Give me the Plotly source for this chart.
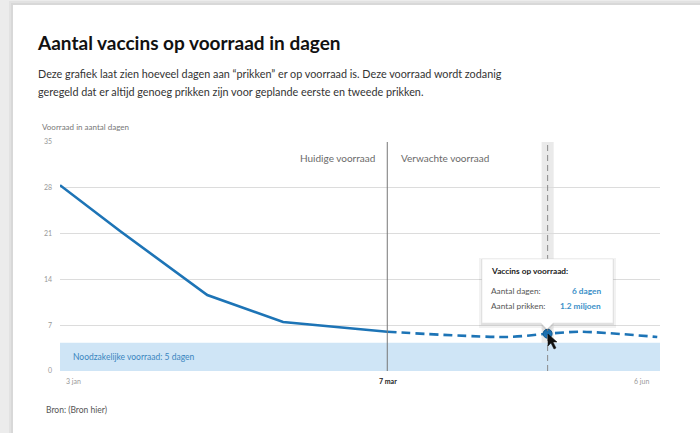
import plotly.graph_objects as go

# ---- data ----
solid_x = [0, 1.1, 2.7, 4.09, 6]
solid_y = [28.4, 21.4, 11.6, 7.5, 6.0]
dashed_x = [6, 8.2, 8.94, 9.54, 10.95]
dashed_y = [6.0, 5.2, 5.7, 6.0, 5.2]
hover_x = [8.94]
hover_y = [5.7]
x_tick_pos = [0, 6, 11]
x_tick_text = ["3 jan", "7 mar", "6 jun"]
y_ticks = [0, 7, 14, 21, 28, 35]
required_stock = 4.3

title = "Aantal vaccins op voorraad in dagen"
subtitle1 = "Deze grafiek laat zien hoeveel dagen aan \u201cprikken\u201d er op voorraad is. Deze voorraad wordt zodanig"
subtitle2 = "geregeld dat er altijd genoeg prikken zijn voor geplande eerste en tweede prikken."

FONT = "Lato"
BLUE = "#1d74b6"
W, H = 700, 433
L, R, T, B = 60, 660, 142, 371


def px(x):
    return (x - L) / (R - L)


def py(y):
    return (B - y) / (B - T)


fig = go.Figure()

fig.add_trace(go.Scatter(x=solid_x, y=solid_y, mode="lines",
                         line=dict(color=BLUE, width=2.6), hoverinfo="skip"))
fig.add_trace(go.Scatter(x=dashed_x, y=dashed_y, mode="lines",
                         line=dict(color=BLUE, width=2.6, dash="9px,5px", shape="spline", smoothing=0.8),
                         hoverinfo="skip"))
fig.add_trace(go.Scatter(x=hover_x, y=hover_y, mode="markers",
                         marker=dict(color=BLUE, size=9, line=dict(color="#135a8f", width=1)),
                         hoverinfo="skip"))

shapes = []
# card background
shapes.append(dict(type="rect", xref="paper", yref="paper", x0=px(9), x1=px(720), y0=py(450), y1=py(1),
                   fillcolor="#e2e2e2", line=dict(width=0), layer="below"))
shapes.append(dict(type="rect", xref="paper", yref="paper", x0=px(11), x1=px(720), y0=py(450), y1=py(3),
                   fillcolor="#d8d8d8", line=dict(width=0), layer="below"))
shapes.append(dict(type="rect", xref="paper", yref="paper", x0=px(13), x1=px(720), y0=py(450), y1=py(5),
                   fillcolor="white", line=dict(width=0), layer="below"))
# required stock band
shapes.append(dict(type="rect", xref="x", yref="y", x0=0, x1=11, y0=0, y1=required_stock,
                   fillcolor="#cfe5f6", line=dict(width=0), layer="below"))
# hover spike band
shapes.append(dict(type="rect", xref="x", yref="paper", x0=hover_x[0] - 0.11, x1=hover_x[0] + 0.11, y0=0, y1=1,
                   fillcolor="#e6e6e6", opacity=0.85, line=dict(width=0), layer="below"))
shapes.append(dict(type="line", xref="x", yref="paper", x0=hover_x[0], x1=hover_x[0], y0=0, y1=1,
                   line=dict(color="#888", width=1, dash="6px,4px"), layer="above"))
# current/expected divider
shapes.append(dict(type="line", xref="x", yref="paper", x0=6, x1=6, y0=0, y1=1,
                   line=dict(color="#777", width=1), layer="above"))

# tooltip
def tip_path(dx=0, dy=0, grow=0):
    l, r, t, b = 482 - grow + dx, 613 + grow + dx, 259 - grow + dy, 323 + grow + dy
    ax = 547 + dx
    pts = [(l, t), (r, t), (r, b), (ax + 6, b), (ax, b + 6 + grow), (ax - 6, b), (l, b)]
    return "M " + " L ".join(f"{px(a):.5f},{py(c):.5f}" for a, c in pts) + " Z"

shapes.append(dict(type="path", xref="paper", yref="paper", path=tip_path(0, 2, 3),
                   fillcolor="rgba(0,0,0,0.05)", line=dict(width=0)))
shapes.append(dict(type="path", xref="paper", yref="paper", path=tip_path(0, 1, 1),
                   fillcolor="rgba(0,0,0,0.07)", line=dict(width=0)))
shapes.append(dict(type="path", xref="paper", yref="paper", path=tip_path(),
                   fillcolor="white", line=dict(color="#e6e6e6", width=0.6)))
# cursor
cur = [(548, 334), (548, 346), (551, 343), (554, 349), (556, 348), (553, 342), (557, 342)]
shapes.append(dict(type="path", xref="paper", yref="paper",
                   path="M " + " L ".join(f"{px(a):.5f},{py(c):.5f}" for a, c in cur) + " Z",
                   fillcolor="#111", line=dict(color="#111", width=0.5)))

ann = []
def text(x, y, s, size, color="#333", anchor="left", bold=False):
    ann.append(dict(xref="paper", yref="paper", x=px(x), y=py(y), text=f"<b>{s}</b>" if bold else s,
                    showarrow=False, xanchor=anchor, yanchor="middle",
                    font=dict(family=FONT, size=size, color=color)))

text(35, 42, title, 19, "#111", bold=True)
text(36, 73, subtitle1, 10.8, "#333")
text(36, 91, subtitle2, 10.8, "#333")
text(40, 127, "Voorraad in aantal dagen", 8, "#777")
text(377, 158, "Huidige voorraad", 10, "#6a6a6a", anchor="right")
text(399, 158, "Verwachte voorraad", 10, "#6a6a6a")
text(71, 357, "Noodzakelijke voorraad: 5 dagen", 8.5, "#3a86c0")
text(44, 410, "Bron: (Bron hier)", 8.5, "#555")
text(489, 271, "Vaccins op voorraad:", 8.3, "#222", bold=True)
text(489, 291, "Aantal dagen:", 8.3, "#555")
text(489, 306, "Aantal prikken:", 8.3, "#555")
text(603, 291, "6 dagen", 8.3, "#3a90c8", anchor="right", bold=True)
text(603, 306, "1.2 miljoen", 8.3, "#3a90c8", anchor="right", bold=True)

# x tick labels
for pos, lab in zip(x_tick_pos, x_tick_text):
    if pos == x_tick_pos[0]:
        ann.append(dict(xref="x", yref="paper", x=pos, y=py(381), text=lab, showarrow=False,
                        xanchor="left", yanchor="middle", xshift=4,
                        font=dict(family=FONT, size=7, color="#999")))
    elif pos == x_tick_pos[-1]:
        ann.append(dict(xref="x", yref="paper", x=pos, y=py(381), text=lab, showarrow=False,
                        xanchor="right", yanchor="middle", xshift=-9,
                        font=dict(family=FONT, size=7, color="#999")))
    else:
        ann.append(dict(xref="x", yref="paper", x=pos, y=py(381), text=f"<b>{lab}</b>", showarrow=False,
                        xanchor="center", yanchor="middle", xshift=1,
                        font=dict(family=FONT, size=7, color="#222")))

fig.update_layout(
    width=W, height=H,
    margin=dict(l=L, r=W - R, t=T, b=H - B, pad=0),
    paper_bgcolor="#ececec", plot_bgcolor="rgba(0,0,0,0)",
    showlegend=False,
    shapes=shapes, annotations=ann,
    xaxis=dict(range=[0, 11], showgrid=False, zeroline=False, showticklabels=False, showline=False, fixedrange=True),
    yaxis=dict(range=[0, 35], tickvals=y_ticks, showgrid=True, gridcolor="#dcdcdc", gridwidth=1,
               zeroline=False, showline=False, ticks="", ticklabelstandoff=7,
               tickfont=dict(family=FONT, size=7, color="#999"), fixedrange=True),
)

fig.write_html("out.html", config={"displayModeBar": False},
               post_script="document.body.style.margin='0';document.body.style.overflow='hidden';")
